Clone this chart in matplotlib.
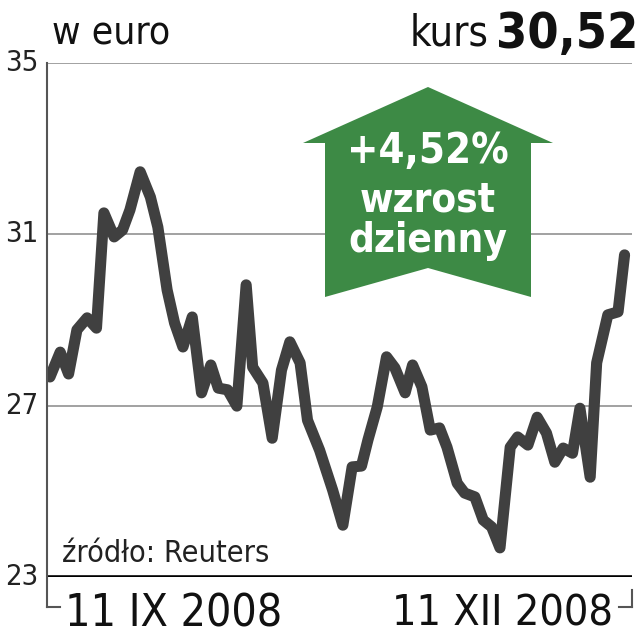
import matplotlib
matplotlib.use("Agg")
import matplotlib.pyplot as plt
from matplotlib.patches import Polygon
from matplotlib.lines import Line2D
from matplotlib import font_manager

# --- dane (dni sesyjne od 11 IX 2008, kurs w euro) ---
days = [0.0, 1.1, 2.0, 2.9, 4.0, 5.0, 5.8, 6.9, 7.8, 8.6,
        9.7, 10.8, 11.6, 12.6, 13.4, 14.3, 15.3, 16.3, 17.3, 18.1,
        19.1, 20.1, 21.1, 21.8, 22.9, 23.9, 24.9, 25.8, 26.9, 27.7,
        29.0, 30.4, 31.5, 32.5, 33.5, 34.2, 35.2, 36.2, 37.1, 38.2,
        39.0, 40.0, 40.9, 41.9, 42.7, 43.8, 44.6, 45.7, 46.6, 47.5,
        48.4, 49.5, 50.3, 51.4, 52.4, 53.4, 54.3, 55.2, 56.2, 57.0,
        58.1, 58.8, 60.0, 61.1, 61.8]
price = [27.67, 28.25, 27.74, 28.77, 29.05, 28.81, 31.50, 30.94, 31.10, 31.57,
         32.46, 31.87, 31.17, 29.70, 28.93, 28.37, 29.07, 27.30, 27.95, 27.41,
         27.37, 26.99, 29.82, 27.90, 27.53, 26.24, 27.83, 28.49, 28.00, 26.66,
         25.96, 25.03, 24.21, 25.57, 25.59, 26.20, 26.97, 28.14, 27.88, 27.30,
         27.95, 27.44, 26.43, 26.48, 26.03, 25.19, 24.96, 24.87, 24.33, 24.17,
         23.68, 26.03, 26.27, 26.08, 26.73, 26.36, 25.68, 26.01, 25.89, 26.94,
         25.33, 28.00, 29.12, 29.19, 30.52]
y_ticks = [23, 27, 31, 35]
x_labels = ["11 IX 2008", "11 XII 2008"]

W, H = 642, 640
GREEN = "#3d8a45"
LINE = "#404040"

# wąski krój (DejaVu Sans Condensed)
cond = font_manager.FontProperties(family="DejaVu Sans", stretch="condensed")
cond_b = font_manager.FontProperties(family="DejaVu Sans", stretch="condensed",
                                     weight="bold")


def fp(size, bold=False):
    p = (cond_b if bold else cond).copy()
    p.set_size(size)
    return p


def fx(px):
    return px / W


def fy(py):
    return 1 - py / H


fig = plt.figure(figsize=(W / 100, H / 100), dpi=100)
ax = fig.add_axes([fx(47), fy(577), fx(632) - fx(47), fy(63) - fy(577)])
ax.set_xlim(-0.32, 62.6)
ax.set_ylim(23, 35)
ax.axis("off")

# linie siatki
for t in y_ticks[1:]:
    ax.axhline(t, color="#9a9a9a", lw=1.3, zorder=1)
ax.axhline(23, color="black", lw=2.6, zorder=3)

# kurs
ax.plot(days, price, color=LINE, lw=8, solid_capstyle="round",
        solid_joinstyle="round", zorder=4)

# lewa oś i nawiasy pod wykresem
fig.add_artist(Line2D([fx(47), fx(47)], [fy(63), fy(607)], color="#555555", lw=1.5))
fig.add_artist(Line2D([fx(47), fx(60)], [fy(607), fy(607)], color="#555555", lw=1.5))
fig.add_artist(Line2D([fx(632), fx(632)], [fy(590), fy(607)], color="#555555", lw=1.5))
fig.add_artist(Line2D([fx(619), fx(632)], [fy(607), fy(607)], color="#555555", lw=1.5))

# etykiety osi Y
for t in y_ticks:
    ax.text(-0.014, t, str(t), transform=ax.get_yaxis_transform(),
            ha="right", va="center", fontproperties=fp(21), color="#222222")

# etykiety dat
fig.text(fx(174), fy(614), x_labels[0], ha="center", va="center",
         fontproperties=fp(32), color="#111111")
fig.text(fx(503), fy(614), x_labels[1], ha="center", va="center",
         fontproperties=fp(31), color="#111111")

# nagłówki
fig.text(fx(52), fy(32), "w euro", ha="left", va="center",
         fontproperties=fp(28), color="#111111")
fig.text(fx(638), fy(34), "30,52", ha="right", va="center",
         fontproperties=fp(36, True), color="#111111")
fig.text(fx(489), fy(34), "kurs", ha="right", va="center",
         fontproperties=fp(30), color="#111111")

fig.text(fx(62), fy(553), "źródło: Reuters", ha="left", va="center",
         fontproperties=fp(22), color="#222222")

# zielona strzałka
arrow_px = [(428, 87), (553, 143), (531, 143), (531, 297), (428, 268),
            (325, 297), (325, 143), (303, 143)]
arrow = Polygon([(fx(x), fy(y)) for x, y in arrow_px], closed=True,
                facecolor=GREEN, edgecolor="none", transform=fig.transFigure,
                zorder=5)
fig.patches.append(arrow)
for txt, ypx, size in [("+4,52%", 151, 30), ("wzrost", 200, 29), ("dzienny", 241, 29)]:
    fig.text(fx(428), fy(ypx), txt, ha="center", va="center",
             fontproperties=fp(size, True), color="white", zorder=6)

fig.savefig("out.png", dpi=100, facecolor="white")
